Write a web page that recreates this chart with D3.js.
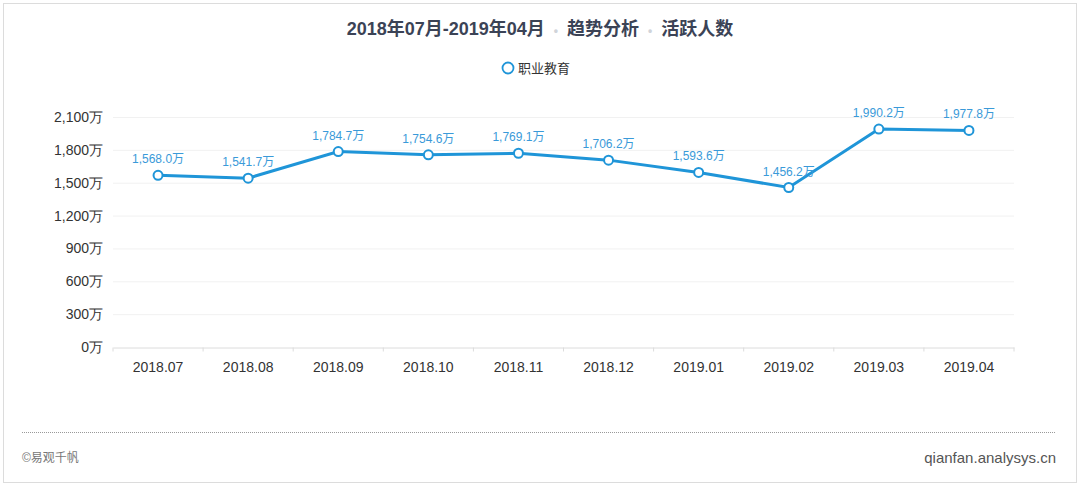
<!DOCTYPE html>
<html>
<head>
<meta charset="utf-8">
<script src="https://cdnjs.cloudflare.com/ajax/libs/d3/7.8.5/d3.min.js"></script>
<style>
  html, body { margin: 0; padding: 0; background: #fff; }
  svg { display: block; font-family: "Liberation Sans", "Noto Sans CJK SC", sans-serif; }
</style>
</head>
<body>
<div id="chart"></div>
<script>
var months = ["2018.07", "2018.08", "2018.09", "2018.10", "2018.11", "2018.12", "2019.01", "2019.02", "2019.03", "2019.04"];
var activeUsers = [1568.0, 1541.7, 1784.7, 1754.6, 1769.1, 1706.2, 1593.6, 1456.2, 1990.2, 1977.8];
var yTicks = [0, 300, 600, 900, 1200, 1500, 1800, 2100];
var seriesName = "职业教育";

var W = 1080, H = 486;
var margin = { left: 113, right: 66, top: 117, bottom: 139 };

var svg = d3.select("#chart").append("svg").attr("width", W).attr("height", H);

// card frame
svg.append("rect").attr("x", 3.5).attr("y", 3.5).attr("width", W - 7).attr("height", H - 7)
  .attr("fill", "#fff").attr("stroke", "#dcdcdc");

// title
var title = svg.append("text").attr("x", 540).attr("y", 35).attr("text-anchor", "middle")
  .attr("font-size", 18).attr("fill", "#3b4356").attr("font-weight", "bold");
title.append("tspan").text("2018年07月-2019年04月");
title.append("tspan").attr("fill", "#d0d4da").attr("dx", 9).attr("font-size", 12).text("•");
title.append("tspan").attr("dx", 9).text("趋势分析");
title.append("tspan").attr("fill", "#d0d4da").attr("dx", 9).attr("font-size", 12).text("•");
title.append("tspan").attr("dx", 9).text("活跃人数");

// legend
svg.append("circle").attr("cx", 508).attr("cy", 68).attr("r", 5.5)
  .attr("fill", "#fff").attr("stroke", "#1f95d8").attr("stroke-width", 1.8);
svg.append("text").attr("x", 518).attr("y", 73).attr("font-size", 13).attr("fill", "#333").text(seriesName);

var x = d3.scaleBand().domain(months).range([margin.left, W - margin.right]);
var y = d3.scaleLinear().domain([0, 2100]).range([H - margin.bottom, margin.top]);

// grid
svg.append("g").selectAll("line").data(yTicks.slice(1)).enter().append("line")
  .attr("x1", margin.left).attr("x2", W - margin.right)
  .attr("y1", function (d) { return y(d) + 0.5; }).attr("y2", function (d) { return y(d) + 0.5; })
  .attr("stroke", "#f1f1f1");

// y axis labels
var yAxis = svg.append("g").attr("transform", "translate(" + margin.left + ",0)")
  .call(d3.axisLeft(y).tickValues(yTicks).tickSize(0).tickPadding(10)
    .tickFormat(function (d) { return d3.format(",")(d) + "万"; }));
yAxis.select(".domain").remove();
yAxis.selectAll("text").attr("font-size", 14).attr("fill", "#333").attr("font-family", null);

// x axis
var xAxis = svg.append("g").attr("transform", "translate(0," + (H - margin.bottom + 0.5) + ")")
  .call(d3.axisBottom(x).tickSize(0).tickPadding(15));
xAxis.select(".domain").attr("stroke", "#dcdcdc");
xAxis.selectAll("text").attr("font-size", 14).attr("fill", "#333").attr("font-family", null);
xAxis.selectAll(".bound").data(d3.range(months.length + 1)).enter().append("line")
  .attr("x1", function (i) { return margin.left + i * x.step(); })
  .attr("x2", function (i) { return margin.left + i * x.step(); })
  .attr("y1", 0).attr("y2", 4).attr("stroke", "#dcdcdc");

// line
var cx = function (d, i) { return x(months[i]) + x.bandwidth() / 2; };
var line = d3.line().x(cx).y(function (d) { return y(d); });
svg.append("path").datum(activeUsers).attr("d", line)
  .attr("fill", "none").attr("stroke", "#1f95d8").attr("stroke-width", 3);

svg.append("g").selectAll("circle").data(activeUsers).enter().append("circle")
  .attr("cx", cx).attr("cy", function (d) { return y(d); }).attr("r", 4.5)
  .attr("fill", "#fff").attr("stroke", "#1f95d8").attr("stroke-width", 2);

svg.append("g").selectAll("text").data(activeUsers).enter().append("text")
  .attr("x", cx).attr("y", function (d) { return y(d) - 12; })
  .attr("text-anchor", "middle").attr("font-size", 12).attr("fill", "#3a9ad9")
  .text(function (d) { return d3.format(",.1f")(d) + "万"; });

// footer
svg.append("line").attr("x1", 22).attr("x2", 1055).attr("y1", 432.5).attr("y2", 432.5)
  .attr("stroke", "#999").attr("stroke-dasharray", "1,1");
svg.append("text").attr("x", 22).attr("y", 462).attr("font-size", 12).attr("fill", "#777").text("©易观千帆");
svg.append("text").attr("x", 1056).attr("y", 463).attr("text-anchor", "end")
  .attr("font-size", 15).attr("fill", "#555").text("qianfan.analysys.cn");
</script>
</body>
</html>
